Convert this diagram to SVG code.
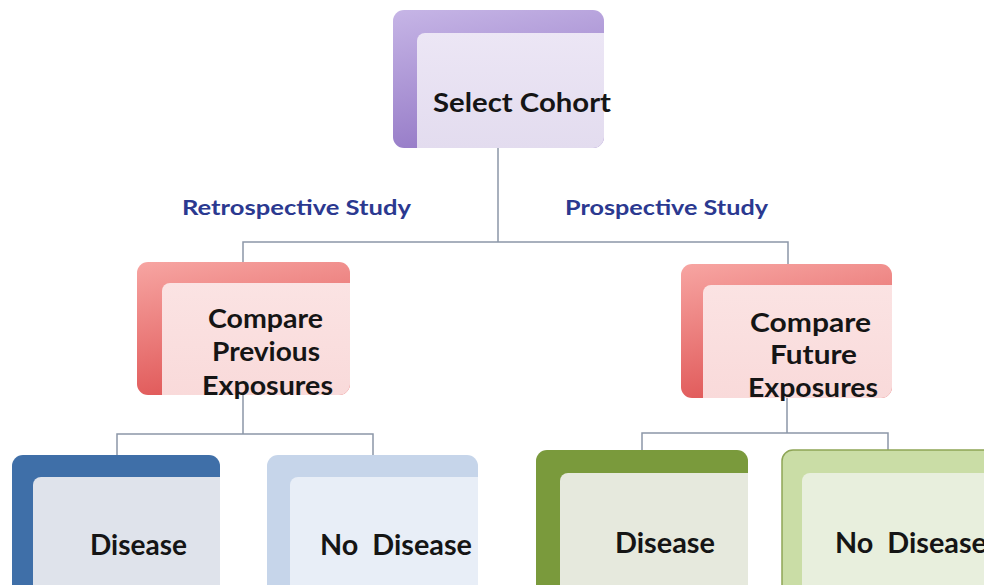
<svg xmlns="http://www.w3.org/2000/svg" width="984" height="585" viewBox="0 0 984 585">
  <defs>
    <linearGradient id="gPurple" x1="0" y1="0" x2="0.3" y2="1">
      <stop offset="0" stop-color="#c6b5e6"/>
      <stop offset="1" stop-color="#967bc7"/>
    </linearGradient>
    <linearGradient id="gRed" x1="0" y1="0" x2="0.3" y2="1">
      <stop offset="0" stop-color="#f7a5a2"/>
      <stop offset="1" stop-color="#e05858"/>
    </linearGradient>
    <linearGradient id="gPurpleIn" x1="0" y1="0" x2="0" y2="1">
      <stop offset="0" stop-color="#ece6f5"/>
      <stop offset="1" stop-color="#e3dcef"/>
    </linearGradient>
    <linearGradient id="gRedIn" x1="0" y1="0" x2="0" y2="1">
      <stop offset="0" stop-color="#fbe3e3"/>
      <stop offset="1" stop-color="#f9dada"/>
    </linearGradient>
  </defs>
  <style>
    .t { font-family: Lato, "Open Sans", "Liberation Sans", sans-serif; font-weight: bold; fill: #151515; }
    .lbl { font-family: Lato, "Open Sans", "Liberation Sans", sans-serif; font-weight: bold; fill: #2b3990; font-size: 20px; }
    .conn { fill: none; stroke: #8c97a8; stroke-width: 1.5; }
  </style>

  <rect width="984" height="585" fill="#ffffff"/>

  <!-- connectors -->
  <g id="connectors">
    <path class="conn" d="M498 148 V242 H243 V262 M498 242 H788 V264"/>
    <path class="conn" d="M243 395 V434 H117 V455 M243 434 H373 V455"/>
    <path class="conn" d="M787 398 V433 H642 V450 M787 433 H888 V450"/>
  </g>

  <!-- top node -->
  <g id="select-cohort">
    <rect x="393" y="10" width="211" height="138" rx="11" fill="url(#gPurple)"/>
    <path d="M425 33 H604 V137 A11 11 0 0 1 593 148 H417 V41 A8 8 0 0 1 425 33 Z" fill="url(#gPurpleIn)"/>
    <text class="t" x="433" y="112" font-size="26" textLength="178" lengthAdjust="spacingAndGlyphs">Select Cohort</text>
  </g>

  <text class="lbl" x="182" y="215" textLength="229" lengthAdjust="spacingAndGlyphs">Retrospective Study</text>
  <text class="lbl" x="565" y="215" textLength="203" lengthAdjust="spacingAndGlyphs">Prospective Study</text>

  <!-- retrospective branch -->
  <g id="compare-previous">
    <rect x="137" y="262" width="213" height="133" rx="11" fill="url(#gRed)"/>
    <path d="M170 283 H350 V384 A11 11 0 0 1 339 395 H162 V291 A8 8 0 0 1 170 283 Z" fill="url(#gRedIn)"/>
    <text class="t" x="208" y="328" font-size="26" textLength="115" lengthAdjust="spacingAndGlyphs">Compare</text>
    <text class="t" x="212" y="361" font-size="26" textLength="108" lengthAdjust="spacingAndGlyphs">Previous</text>
    <text class="t" x="202" y="395" font-size="26" textLength="131" lengthAdjust="spacingAndGlyphs">Exposures</text>
  </g>

  <!-- prospective branch -->
  <g id="compare-future">
    <rect x="681" y="264" width="211" height="134" rx="11" fill="url(#gRed)"/>
    <path d="M711 285 H892 V387 A11 11 0 0 1 881 398 H703 V293 A8 8 0 0 1 711 285 Z" fill="url(#gRedIn)"/>
    <text class="t" x="750" y="332" font-size="26" textLength="121" lengthAdjust="spacingAndGlyphs">Compare</text>
    <text class="t" x="770" y="364" font-size="26" textLength="87" lengthAdjust="spacingAndGlyphs">Future</text>
    <text class="t" x="748" y="397" font-size="26" textLength="130" lengthAdjust="spacingAndGlyphs">Exposures</text>
  </g>

  <!-- outcome nodes -->
  <g id="retro-disease">
    <rect x="12" y="455" width="208" height="150" rx="11" fill="#3f6fa8"/>
    <path d="M41 477 H220 V605 H33 V485 A8 8 0 0 1 41 477 Z" fill="#dfe3eb"/>
    <text class="t" x="90" y="555" font-size="28" textLength="97" lengthAdjust="spacingAndGlyphs">Disease</text>
  </g>

  <g id="retro-no-disease">
    <rect x="267" y="455" width="211" height="150" rx="11" fill="#c6d5ea"/>
    <path d="M298 477 H478 V605 H290 V485 A8 8 0 0 1 298 477 Z" fill="#e8eef7"/>
    <text class="t" x="320" y="555" font-size="28" textLength="152" lengthAdjust="spacingAndGlyphs" xml:space="preserve">No  Disease</text>
  </g>

  <g id="pro-disease">
    <rect x="536" y="450" width="212" height="155" rx="11" fill="#7a9a3c"/>
    <path d="M568 473 H748 V605 H560 V481 A8 8 0 0 1 568 473 Z" fill="#e6e9dd"/>
    <text class="t" x="615" y="553" font-size="28" textLength="100" lengthAdjust="spacingAndGlyphs">Disease</text>
  </g>

  <g id="pro-no-disease">
    <rect x="782" y="450" width="215" height="155" rx="11" fill="#cadda6" stroke="#8ea556" stroke-width="1.5"/>
    <path d="M810 473 H997 V605 H802 V481 A8 8 0 0 1 810 473 Z" fill="#e8efdd"/>
    <text class="t" x="835" y="553" font-size="28" textLength="152" lengthAdjust="spacingAndGlyphs" xml:space="preserve">No  Disease</text>
  </g>
</svg>
